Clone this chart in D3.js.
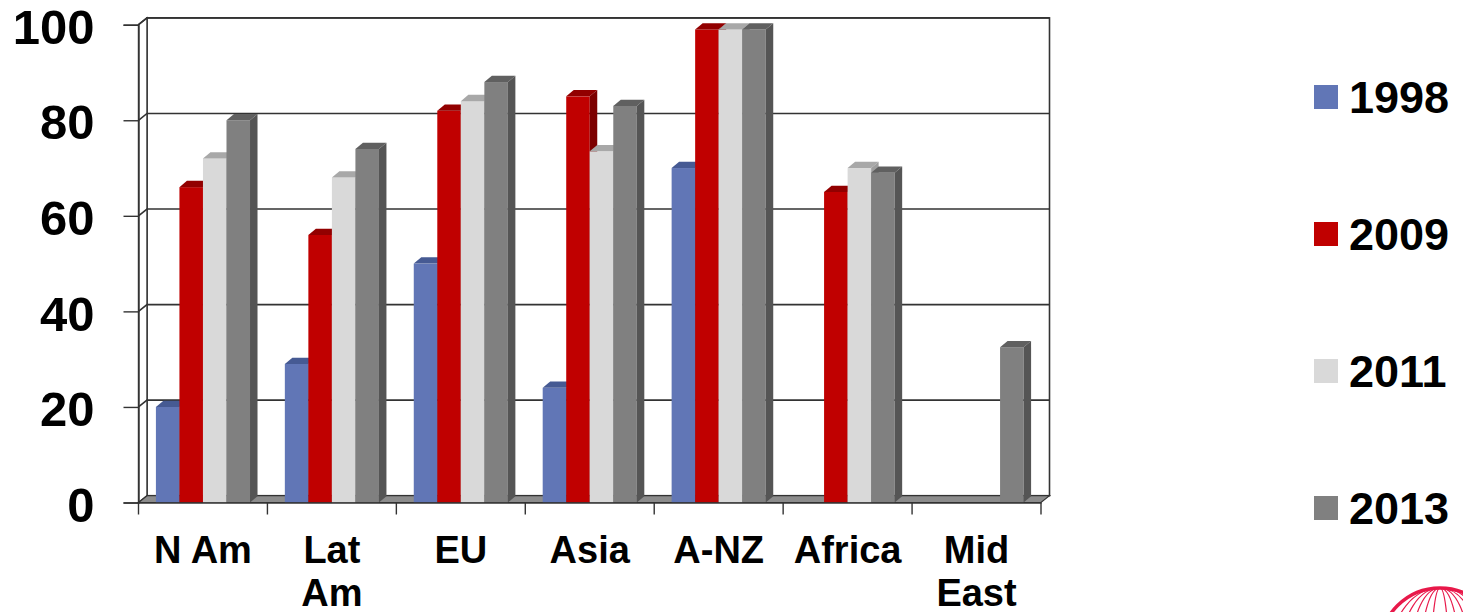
<!DOCTYPE html>
<html>
<head>
  <title>Regional Share by Year</title>
  <script src="https://d3js.org/d3.v7.min.js"></script>
  <style>
    body {
      margin: 0;
      background: #fff;
      font-family: Arial, "Liberation Sans", sans-serif;
    }
    text {
      font-weight: bold;
      fill: #000;
    }
  </style>
</head>
<body>

<div id="chart"></div>

<script>
  // values
  const categories = ["N Am", "Lat Am", "EU", "Asia", "A-NZ", "Africa", "Mid East"];
  const series = ["1998", "2009", "2011", "2013"];
  const v1998 = [20, 29, 50, 24, 70, null, null];
  const v2009 = [66, 56, 82, 85, 99, 65, null];
  const v2011 = [72, 68, 84, 73.5, 99, 70, null];
  const v2013 = [80, 74, 88, 83, 99, 69, 32.5];
  const yTicks = [0, 20, 40, 60, 80, 100];

  const seriesValues = [v1998, v2009, v2011, v2013];

  // front, top, side shades for each series
  const colors = {
    "1998": { front: "#6176b6", top: "#465a93", side: "#3c4e80" },
    "2009": { front: "#c00000", top: "#920000", side: "#7c0000" },
    "2011": { front: "#d9d9d9", top: "#a8a8a8", side: "#9e9e9e" },
    "2013": { front: "#808080", top: "#606060", side: "#555555" }
  };

  const width = 1463;
  const height = 612;
  const wall = { dx: 8.5, dy: -6.8 };
  const bar = { dx: 7.5, dy: -6.3 };
  const lineColor = "#333";

  const svg = d3.select("#chart")
    .append("svg")
    .attr("width", width)
    .attr("height", height);

  const y = d3.scaleLinear()
    .domain([0, 100])
    .range([502.5, 24.7]);

  const x0 = d3.scaleBand()
    .domain(categories)
    .range([138.5, 1041]);

  const x1 = d3.scaleBand()
    .domain(series)
    .range([0, x0.bandwidth()])
    .paddingOuter(0.74);

  const left = x0.range()[0];
  const right = x0.range()[1];
  const y0 = y(0);
  const yTop = y(100);

  // back wall
  svg.append("rect")
    .attr("x", left + wall.dx)
    .attr("y", yTop + wall.dy)
    .attr("width", right - left)
    .attr("height", y0 - yTop)
    .attr("fill", "#fff")
    .attr("stroke", lineColor)
    .attr("stroke-width", 1.6);

  // left side wall
  svg.append("polygon")
    .attr("points", [
      [left, y0], [left, yTop],
      [left + wall.dx, yTop + wall.dy], [left + wall.dx, y0 + wall.dy]
    ].join(" "))
    .attr("fill", "#fff")
    .attr("stroke", lineColor)
    .attr("stroke-width", 1.4);

  // gridlines running over the side wall and the back wall
  svg.append("g")
    .selectAll("polyline")
    .data(yTicks.filter(t => t > 0))
    .join("polyline")
    .attr("points", t => [
      [left, y(t)],
      [left + wall.dx, y(t) + wall.dy],
      [right + wall.dx, y(t) + wall.dy]
    ].join(" "))
    .attr("fill", "none")
    .attr("stroke", lineColor)
    .attr("stroke-width", 1.6);

  // floor
  svg.append("polygon")
    .attr("points", [
      [left, y0], [right, y0],
      [right + wall.dx, y0 + wall.dy], [left + wall.dx, y0 + wall.dy]
    ].join(" "))
    .attr("fill", "#8c8c8c")
    .attr("stroke", lineColor)
    .attr("stroke-width", 1.2);

  // bars, drawn left to right so each front hides the previous side
  const barData = [];
  categories.forEach((c, ci) => {
    series.forEach((s, si) => {
      const v = seriesValues[si][ci];
      if (v != null) barData.push({ category: c, series: s, value: v });
    });
  });

  const bars = svg.append("g")
    .selectAll("g")
    .data(barData)
    .join("g");

  bars.append("rect")
    .attr("x", d => x0(d.category) + x1(d.series))
    .attr("y", d => y(d.value))
    .attr("width", x1.bandwidth())
    .attr("height", d => y0 - y(d.value))
    .attr("fill", d => colors[d.series].front);

  bars.append("polygon")
    .attr("points", d => {
      const xa = x0(d.category) + x1(d.series);
      const xb = xa + x1.bandwidth();
      const yt = y(d.value);
      return [[xa, yt], [xb, yt], [xb + bar.dx, yt + bar.dy], [xa + bar.dx, yt + bar.dy]].join(" ");
    })
    .attr("fill", d => colors[d.series].top);

  bars.append("polygon")
    .attr("points", d => {
      const xb = x0(d.category) + x1(d.series) + x1.bandwidth();
      const yt = y(d.value);
      return [[xb, yt], [xb + bar.dx, yt + bar.dy], [xb + bar.dx, y0 + bar.dy], [xb, y0]].join(" ");
    })
    .attr("fill", d => colors[d.series].side);

  // y axis
  const yAxis = svg.append("g")
    .attr("transform", `translate(${left},0)`)
    .call(d3.axisLeft(y)
      .tickValues(yTicks)
      .tickSize(15)
      .tickPadding(29));

  yAxis.select(".domain")
    .attr("stroke", lineColor)
    .attr("stroke-width", 1.4);
  yAxis.selectAll(".tick line")
    .attr("stroke", lineColor)
    .attr("stroke-width", 1.4);
  yAxis.selectAll(".tick text")
    .attr("dy", "0.38em")
    .style("font-family", "Arial, 'Liberation Sans', sans-serif")
    .style("font-size", "49px")
    .style("font-weight", "bold")
    .attr("fill", "#000");

  // x axis labels
  const xAxis = svg.append("g")
    .attr("transform", `translate(0,${y0})`)
    .call(d3.axisBottom(x0)
      .tickSize(0)
      .tickPadding(34));

  xAxis.select(".domain")
    .attr("stroke", lineColor)
    .attr("stroke-width", 1.6);
  xAxis.selectAll(".tick text")
    .style("font-family", "Arial, 'Liberation Sans', sans-serif")
    .style("font-size", "38px")
    .style("font-weight", "bold")
    .attr("fill", "#000")
    .each(function () {
      const t = d3.select(this);
      if (this.getComputedTextLength() <= x0.bandwidth() * 0.93) return;
      const words = t.text().split(" ");
      const xPos = t.attr("x") || 0;
      const yPos = t.attr("y");
      t.text(null);
      words.forEach((w, i) => {
        t.append("tspan")
          .attr("x", xPos)
          .attr("y", yPos)
          .attr("dy", `${0.71 + i * 1.13}em`)
          .text(w);
      });
    });

  // category boundary ticks
  svg.append("g")
    .selectAll("line")
    .data(categories.map(c => x0(c)).concat([right]))
    .join("line")
    .attr("x1", d => d)
    .attr("x2", d => d)
    .attr("y1", y0)
    .attr("y2", y0 + 12)
    .attr("stroke", lineColor)
    .attr("stroke-width", 1.4);

  // legend
  const legend = svg.append("g")
    .attr("transform", "translate(1314,97)");

  const item = legend.selectAll("g")
    .data(series)
    .join("g")
    .attr("transform", (d, i) => `translate(0,${i * 137})`);

  item.append("rect")
    .attr("x", 0)
    .attr("y", -12)
    .attr("width", 24)
    .attr("height", 24)
    .attr("fill", d => colors[d].front);

  item.append("text")
    .attr("x", 35)
    .attr("y", 16)
    .style("font-size", "45px")
    .text(d => d);

  // globe logo peeking in at the bottom right corner
  const logo = svg.append("g")
    .attr("transform", "translate(1440,648)")
    .attr("fill", "none")
    .attr("stroke", "#e8194a");

  logo.append("circle")
    .attr("r", 60)
    .attr("stroke-width", 3.5);

  logo.selectAll("ellipse")
    .data([8, 18, 28, 38, 48])
    .join("ellipse")
    .attr("rx", d => d)
    .attr("ry", 60)
    .attr("stroke-width", 1.2);
</script>

</body>
</html>
